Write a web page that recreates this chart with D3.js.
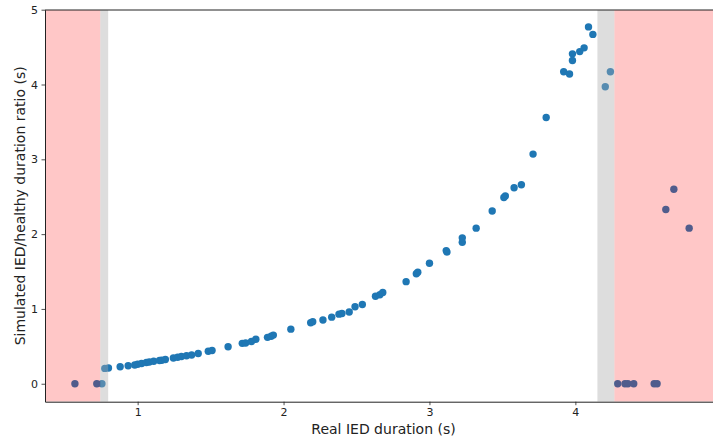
<!DOCTYPE html>
<html>
<head>
<meta charset="utf-8">
<script src="https://cdn.jsdelivr.net/npm/d3@7"></script>
<style>
  body { margin: 0; background: white; }
  svg { display: block; font-family: "DejaVu Sans", sans-serif; }
</style>
</head>
<body>
<div id="chart"></div>
<script>
// real IED duration (s) vs simulated/healthy duration ratio
var realDuration = [
	0.57, 0.72, 0.755, 0.775, 0.80,
	0.88, 0.935, 0.98, 1.0, 1.027, 1.06, 1.08, 1.11, 1.15, 1.165, 1.19, 1.245, 1.274, 1.30, 1.335, 1.37, 1.415,
	1.484, 1.51, 1.62, 1.717, 1.74, 1.78, 1.81, 1.89, 1.915, 1.93, 2.05,
	2.186, 2.20, 2.27, 2.33, 2.38, 2.40, 2.45, 2.49, 2.54,
	2.63, 2.66, 2.68, 2.84, 2.91, 2.92, 3.0, 3.12, 3.115, 3.225, 3.225, 3.32,
	3.43, 3.51, 3.52, 3.58, 3.63, 3.71, 3.80, 3.92, 3.96, 3.98, 3.98, 4.03, 4.06, 4.09, 4.12,
	4.205, 4.24,
	4.29, 4.34, 4.36, 4.40, 4.54, 4.56,
	4.62, 4.675, 4.78
];
var durationRatio = [
	0, 0, 0, 0.205, 0.21,
	0.228, 0.24, 0.25, 0.26, 0.27, 0.285, 0.29, 0.30, 0.31, 0.315, 0.325, 0.345, 0.355, 0.365, 0.375, 0.385, 0.405,
	0.435, 0.445, 0.495, 0.54, 0.545, 0.565, 0.594, 0.62, 0.635, 0.65, 0.73,
	0.816, 0.83, 0.853, 0.89, 0.93, 0.94, 0.96, 1.03, 1.06,
	1.17, 1.19, 1.22, 1.365, 1.47, 1.49, 1.61, 1.76, 1.78, 1.89, 1.95, 2.08,
	2.31, 2.49, 2.51, 2.62, 2.66, 3.07, 3.56, 4.17, 4.14, 4.41, 4.32, 4.44, 4.49, 4.77, 4.67,
	3.97, 4.17,
	0, 0, 0, 0, 0, 0,
	2.33, 2.60, 2.08
];
var redSpans = [[0.3, 0.744], [4.267, 5.1]];
var graySpans = [[0.744, 0.798], [4.151, 4.267]];
var xTicks = [1, 2, 3, 4];
var yTicks = [0, 1, 2, 3, 4, 5];

var width = 713, height = 441;
var margin = { left: 45, top: 10, right: 722, bottom: 401.7 };

var svg = d3.select('#chart').append('svg')
	.attr('width', width)
	.attr('height', height);

var x = d3.scaleLinear().domain([0.365, 5.005]).range([margin.left, margin.right]);
var y = d3.scaleLinear().domain([-0.24, 5.0]).range([margin.bottom, 9.7]);

var points = realDuration.map(function(d, i) { return { x: d, y: durationRatio[i] }; });

var plot = svg.append('g');
plot.append('defs').append('clipPath').attr('id', 'clip')
	.append('rect')
	.attr('x', margin.left).attr('y', margin.top)
	.attr('width', margin.right - margin.left).attr('height', margin.bottom - margin.top);

// points first, shaded spans over them (as in the original)
plot.append('g').selectAll('circle')
	.data(points)
	.enter().append('circle')
	.attr('cx', function(d) { return x(d.x); })
	.attr('cy', function(d) { return y(d.y); })
	.attr('r', 3.7)
	.attr('fill', '#1f77b4');

var spans = plot.append('g').attr('clip-path', 'url(#clip)');
spans.selectAll('.red')
	.data(redSpans)
	.enter().append('rect')
	.attr('class', 'red')
	.attr('x', function(d) { return x(d[0]); })
	.attr('width', function(d) { return x(d[1]) - x(d[0]); })
	.attr('y', margin.top)
	.attr('height', margin.bottom - margin.top)
	.attr('fill', 'red')
	.attr('fill-opacity', 0.22);
spans.selectAll('.gray')
	.data(graySpans)
	.enter().append('rect')
	.attr('class', 'gray')
	.attr('x', function(d) { return x(d[0]); })
	.attr('width', function(d) { return x(d[1]) - x(d[0]); })
	.attr('y', margin.top)
	.attr('height', margin.bottom - margin.top)
	.attr('fill', 'rgb(170,170,170)')
	.attr('fill-opacity', 0.4);

// axes
var xAxis = svg.append('g')
	.attr('transform', 'translate(0,' + margin.bottom + ')')
	.call(d3.axisBottom(x).tickValues(xTicks).tickFormat(d3.format('d')).tickSizeInner(3.5).tickSizeOuter(0).tickPadding(3.5));
var yAxis = svg.append('g')
	.attr('transform', 'translate(' + margin.left + ',0)')
	.call(d3.axisLeft(y).tickValues(yTicks).tickFormat(d3.format('d')).tickSizeInner(3.5).tickSizeOuter(0).tickPadding(3.5));

[xAxis, yAxis].forEach(function(a) {
	a.select('.domain').attr('stroke', '#222').attr('stroke-width', 1);
	a.selectAll('.tick line').attr('stroke', '#222').attr('stroke-width', 0.8);
	a.selectAll('.tick text').attr('fill', '#222').style('font-size', '11px').style('font-family', 'DejaVu Sans');
});

// top spine
svg.append('line')
	.attr('x1', margin.left).attr('x2', margin.right)
	.attr('y1', margin.top).attr('y2', margin.top)
	.attr('stroke', '#222').attr('stroke-width', 1);

svg.append('text')
	.attr('x', (margin.left + margin.right) / 2)
	.attr('y', 434)
	.attr('text-anchor', 'middle')
	.style('font-size', '14px')
	.attr('fill', '#222')
	.text('Real IED duration (s)');

svg.append('text')
	.attr('transform', 'translate(25,' + ((margin.top + margin.bottom) / 2) + ') rotate(-90)')
	.attr('text-anchor', 'middle')
	.style('font-size', '14px')
	.attr('fill', '#222')
	.text('Simulated IED/healthy duration ratio (s)');
</script>
</body>
</html>
